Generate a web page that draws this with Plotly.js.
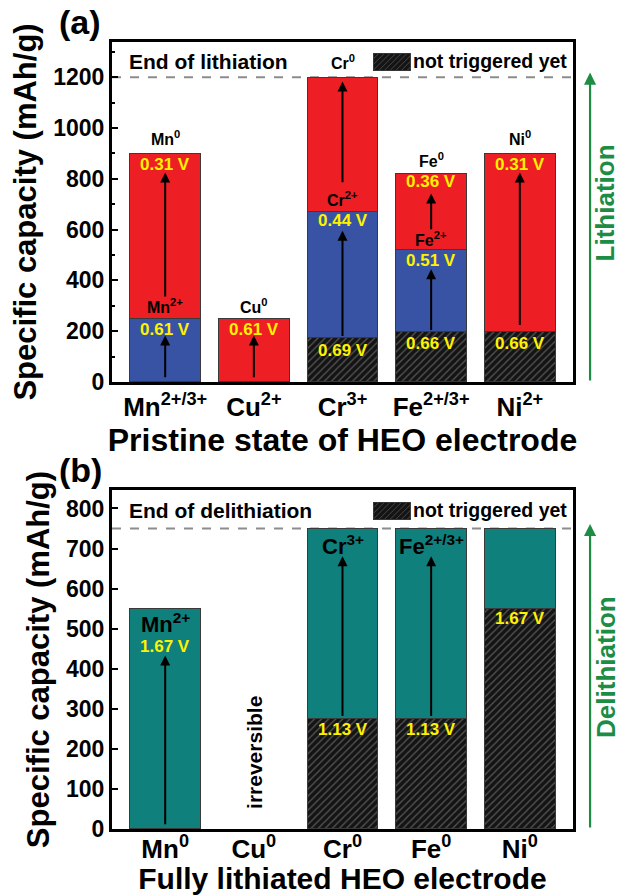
<!DOCTYPE html>
<html>
<head>
<meta charset="utf-8">
<script src="https://cdn.plot.ly/plotly-3.0.1.min.js"></script>
<style>
  html, body { margin: 0; padding: 0; background: #fff; }
  #chart { width: 622px; height: 895px; }
</style>
</head>
<body>
<div id="chart"></div>
<script>
// ---- categories ----
const xPos = [0, 1, 2, 3, 4];
const pristineLabels = ['Mn<sup>2+/3+</sup>', 'Cu<sup>2+</sup>', 'Cr<sup>3+</sup>', 'Fe<sup>2+/3+</sup>', 'Ni<sup>2+</sup>'];
const lithiatedLabels = ['Mn<sup>0</sup>', 'Cu<sup>0</sup>', 'Cr<sup>0</sup>', 'Fe<sup>0</sup>', 'Ni<sup>0</sup>'];

// ---- panel (a): lithiation, stacked segment heights (mAh/g) ----
const lithHatch = [null, null, 175, 200, 200];   // not triggered yet
const lithBlue  = [250, null, 495, 320, null];   // first reduction step
const lithRed   = [650, 250, 530, 300, 700];     // reduction to metal
const lithEnd = 1200;

// ---- panel (b): delithiation, stacked segment heights (mAh/g) ----
const delithHatch = [null, null, 275, 275, 550];
const delithTeal  = [550, null, 475, 475, 200];
const delithEnd = 750;

// ---- panel (a) labels ----
const lithVoltCat  = [0, 0, 1, 2, 2, 3, 3, 3, 4, 4];
const lithVoltText = ['0.61 V', '0.31 V', '0.61 V', '0.69 V', '0.44 V', '0.66 V', '0.51 V', '0.36 V', '0.66 V', '0.31 V'];
const lithVoltY    = [207, 857, 207, 123, 636, 152, 480, 788, 152, 857];

const lithIonCat  = [0, 0, 1, 2, 2, 3, 3, 4];
const lithIonText = ['Mn<sup>2+</sup>', 'Mn<sup>0</sup>', 'Cu<sup>0</sup>', 'Cr<sup>2+</sup>', 'Cr<sup>0</sup>', 'Fe<sup>2+</sup>', 'Fe<sup>0</sup>', 'Ni<sup>0</sup>'];
const lithIonY    = [298, 962, 298, 720, 1262, 565, 875, 962];

const lithArrowCat  = [0, 0, 1, 2, 2, 3, 3, 4];
const lithArrowFrom = [13, 331, 13, 175, 781, 199, 596, 219];
const lithArrowTo   = [183, 825, 183, 596, 1183, 444, 742, 825];

// ---- panel (b) labels ----
const delithVoltCat  = [0, 2, 3, 4];
const delithVoltText = ['1.67 V', '1.13 V', '1.13 V', '1.67 V'];
const delithVoltY    = [456, 248, 248, 525];

const delithIonCat  = [0, 2, 3];
const delithIonText = ['Mn<sup>2+</sup>', 'Cr<sup>3+</sup>', 'Fe<sup>2+/3+</sup>'];
const delithIonY    = [515, 708, 708];

const delithArrowCat  = [0, 2, 3];
const delithArrowFrom = [8, 278, 278];
const delithArrowTo   = [433, 681, 681];

// ---- styling ----
const RED = 'rgb(237,30,36)';
const BLUE = 'rgb(57,83,164)';
const TEAL = 'rgb(15,128,124)';
const YELLOW = 'rgb(255,242,0)';
const GREEN = 'rgb(29,140,69)';
const FONT = 'Arial, "Liberation Sans", sans-serif';
const outline = { color: '#3a3a3a', width: 1 };
const hatch = { shape: '/', bgcolor: '#141414', fgcolor: '#555555', size: 5, solidity: 0.26, fillmode: 'replace' };

function barTrace(y, color, xa, ya, pattern) {
  const t = {
    type: 'bar', x: xPos, y: y, width: 0.8,
    xaxis: xa, yaxis: ya, showlegend: false, hoverinfo: 'skip',
    marker: { color: color, line: outline }
  };
  if (pattern) t.marker.pattern = pattern;
  return t;
}

const data = [
  barTrace(lithHatch, '#141414', 'x', 'y', hatch),
  barTrace(lithBlue, BLUE, 'x', 'y'),
  barTrace(lithRed, RED, 'x', 'y'),
  barTrace(delithHatch, '#141414', 'x2', 'y2', hatch),
  barTrace(delithTeal, TEAL, 'x2', 'y2')
];

const annotations = [];
function addText(xref, yref, x, y, text, size, color, extra) {
  annotations.push(Object.assign({
    xref: xref, yref: yref, x: x, y: y, text: text, showarrow: false,
    xanchor: 'center', yanchor: 'middle',
    font: { family: FONT, size: size, color: color, weight: 'bold' }
  }, extra || {}));
}
function addArrow(xref, yref, x, from, to, color, width, size) {
  annotations.push({
    xref: xref, yref: yref, axref: xref, ayref: yref,
    x: x, y: to, ax: x, ay: from, text: '', showarrow: true,
    arrowhead: 2, arrowsize: size, arrowwidth: width, arrowcolor: color, standoff: 0, startstandoff: 0
  });
}

lithVoltCat.forEach((c, i) => addText('x', 'y', c, lithVoltY[i], lithVoltText[i], 17, YELLOW));
lithIonCat.forEach((c, i) => addText('x', 'y', c, lithIonY[i], lithIonText[i], 16, '#000'));
lithArrowCat.forEach((c, i) => addArrow('x', 'y', c, lithArrowFrom[i], lithArrowTo[i], '#000', 2, 1));

delithVoltCat.forEach((c, i) => addText('x2', 'y2', c, delithVoltY[i], delithVoltText[i], 17, YELLOW));
delithIonCat.forEach((c, i) => addText('x2', 'y2', c, delithIonY[i], delithIonText[i], 22, '#000'));
delithArrowCat.forEach((c, i) => addArrow('x2', 'y2', c, delithArrowFrom[i], delithArrowTo[i], '#000', 2, 1));

addText('x2', 'y2', 1, 192, 'irreversible', 21, '#000', { textangle: -90 });

// panel headers and key text
addText('x domain', 'y domain', 0.032, 0.944, 'End of lithiation', 21, '#000', { xanchor: 'left' });
addText('x domain', 'y domain', 0.992, 0.944, 'not triggered yet', 19.5, '#000', { xanchor: 'right' });
addText('x2 domain', 'y2 domain', 0.032, 0.941, 'End of delithiation', 21, '#000', { xanchor: 'left' });
addText('x2 domain', 'y2 domain', 0.992, 0.941, 'not triggered yet', 19.5, '#000', { xanchor: 'right' });
addText('paper', 'paper', -0.069, 1.025, '(a)', 34, '#000');
addText('paper', 'paper', -0.069, 0.456, '(b)', 34, '#000');

// process direction arrows on the right
annotations.push({ xref: 'paper', yref: 'y domain', axref: 'paper', ayref: 'y domain',
  x: 1.037, y: 0.91, ax: 1.037, ay: 0, text: '', showarrow: true,
  arrowhead: 2, arrowsize: 1.1, arrowwidth: 2.2, arrowcolor: GREEN, standoff: 0 });
annotations.push({ xref: 'paper', yref: 'y2 domain', axref: 'paper', ayref: 'y2 domain',
  x: 1.037, y: 0.9, ax: 1.037, ay: 0, text: '', showarrow: true,
  arrowhead: 2, arrowsize: 1.1, arrowwidth: 2.2, arrowcolor: GREEN, standoff: 0 });
addText('paper', 'y domain', 1.07, 0.526, 'Lithiation', 26, GREEN, { textangle: -90 });
addText('paper', 'y2 domain', 1.07, 0.479, 'Delithiation', 26, GREEN, { textangle: -90 });

// hatched key swatch
const swatchSvg = "<svg xmlns='http://www.w3.org/2000/svg' width='38' height='18'>" +
  "<defs><pattern id='h' width='4' height='4' patternUnits='userSpaceOnUse' patternTransform='rotate(45)'>" +
  "<rect width='4' height='4' fill='#141414'/><line x1='0' y1='0' x2='0' y2='4' stroke='#555555' stroke-width='1.1'/>" +
  "</pattern></defs><rect x='0.5' y='0.5' width='37' height='17' fill='url(#h)' stroke='#333'/></svg>";
const swatchSrc = 'data:image/svg+xml;charset=utf-8,' + encodeURIComponent(swatchSvg);

const images = [
  { source: swatchSrc, xref: 'paper', yref: 'paper', x: 0.566, y: 0.986, sizex: 0.0824, sizey: 0.0229,
    xanchor: 'left', yanchor: 'top', sizing: 'stretch', layer: 'above' },
  { source: swatchSrc, xref: 'paper', yref: 'paper', x: 0.566, y: 0.4155, sizex: 0.0824, sizey: 0.0229,
    xanchor: 'left', yanchor: 'top', sizing: 'stretch', layer: 'above' }
];

const shapes = [
  { type: 'line', xref: 'x domain', yref: 'y', x0: 0, x1: 1, y0: lithEnd, y1: lithEnd,
    line: { color: '#8c8c8c', width: 2, dash: 'dash' }, layer: 'below' },
  { type: 'line', xref: 'x2 domain', yref: 'y2', x0: 0, x1: 1, y0: delithEnd, y1: delithEnd,
    line: { color: '#8c8c8c', width: 2, dash: 'dash' }, layer: 'below' }
];

const xCommon = {
  range: [-0.6, 4.6], tickmode: 'array', tickvals: xPos, ticks: '',
  showline: true, mirror: true, linecolor: '#000', linewidth: 3,
  showgrid: false, zeroline: false, fixedrange: true,
  tickfont: { family: FONT, size: 26, color: '#000', weight: 'bold' }
};
const yCommon = {
  ticks: 'inside', ticklen: 6, tickwidth: 2, tickcolor: '#000',
  showline: true, mirror: true, linecolor: '#000', linewidth: 3,
  showgrid: false, zeroline: false, fixedrange: true,
  tickfont: { family: FONT, size: 23, color: '#000', weight: 'bold' }
};

const layout = {
  width: 622, height: 895,
  margin: { l: 112, r: 49, t: 42, b: 66 },
  paper_bgcolor: '#fff', plot_bgcolor: '#fff',
  barmode: 'stack', bargap: 0.2,
  showlegend: false,
  xaxis: Object.assign({}, xCommon, { anchor: 'y', ticktext: pristineLabels,
    title: { text: 'Pristine state of HEO electrode', standoff: 6,
      font: { family: FONT, size: 32, color: '#000', weight: 'bold' } } }),
  yaxis: Object.assign({}, yCommon, { domain: [0.568, 1], range: [0, 1339], tick0: 0, dtick: 200,
    minor: { ticks: 'inside', ticklen: 3, tickwidth: 2, tickcolor: '#000', dtick: 100 },
    title: { text: 'Specific capacity (mAh/g)', standoff: 8,
      font: { family: FONT, size: 31, color: '#000', weight: 'bold' } } }),
  xaxis2: Object.assign({}, xCommon, { anchor: 'y2', ticktext: lithiatedLabels, ticklabelstandoff: -5,
    title: { text: 'Fully lithiated HEO electrode', standoff: 8,
      font: { family: FONT, size: 30, color: '#000', weight: 'bold' } } }),
  yaxis2: Object.assign({}, yCommon, { domain: [0, 0.4307], range: [0, 846], tick0: 0, dtick: 100,
    title: { text: 'Specific capacity (mAh/g)', standoff: 8,
      font: { family: FONT, size: 31, color: '#000', weight: 'bold' } } }),
  annotations: annotations,
  shapes: shapes,
  images: images
};

Plotly.newPlot('chart', data, layout, { displayModeBar: false, staticPlot: true });
</script>
</body>
</html>
